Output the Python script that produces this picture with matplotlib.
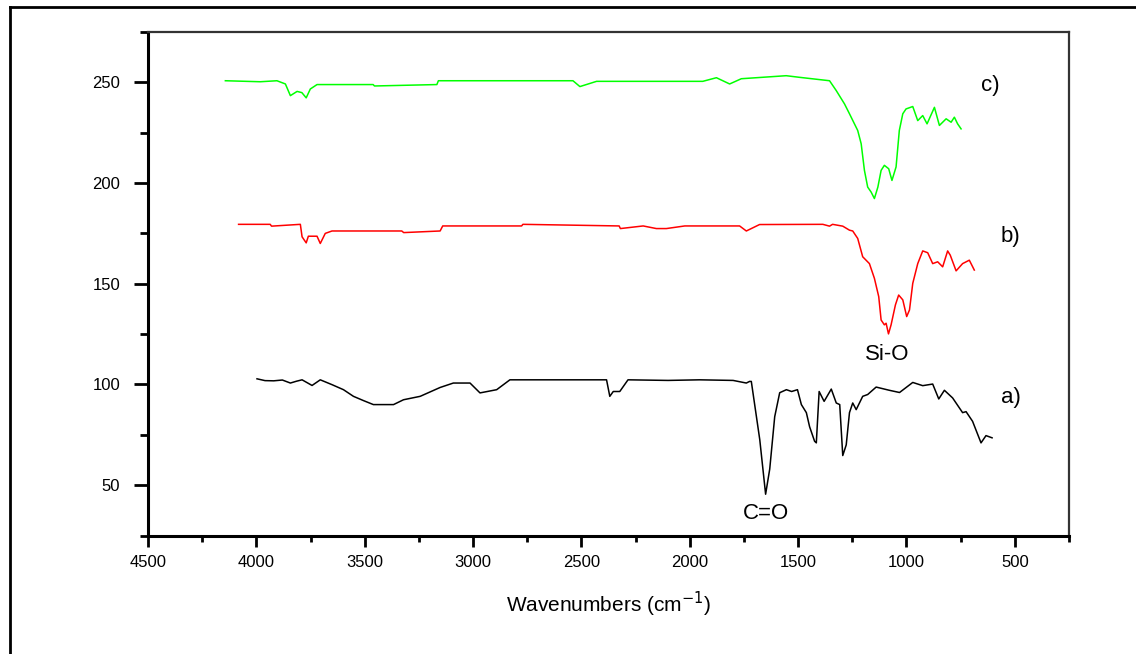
import matplotlib
matplotlib.use("Agg")
import matplotlib.pyplot as plt
from matplotlib.lines import Line2D
from matplotlib.ticker import MultipleLocator

plt.rcParams['font.family'] = ['Liberation Sans', 'DejaVu Sans']

# ---- data (wavenumber, transmittance) ----
a_x = [3997, 3960, 3920, 3880, 3843, 3815, 3789, 3743, 3705, 3651, 3598, 3552,
       3506, 3460, 3367, 3321, 3244, 3152, 3091, 3014, 2968, 2891, 2830, 2600,
       2420, 2384, 2369, 2353, 2323, 2285, 2100, 1955, 1800, 1739, 1724, 1716,
       1677, 1650, 1631, 1608, 1585, 1554, 1530, 1503, 1485, 1462, 1447, 1424,
       1416, 1403, 1380, 1347, 1324, 1308, 1294, 1278, 1263, 1248, 1232, 1202,
       1179, 1140, 1079, 1032, 971, 925, 879, 851, 825, 787, 741, 725, 695,
       656, 633, 605]
a_y = [102.8, 101.9, 101.8, 102.2, 100.7, 101.6, 102.3, 99.5, 102.3, 99.9, 97.4, 94.1,
       92.0, 90.0, 90.0, 92.4, 94.1, 98.5, 100.7, 100.7, 95.8, 97.4, 102.3, 102.3,
       102.3, 102.3, 94.1, 96.5, 96.5, 102.3, 102.0, 102.3, 102.0, 100.7, 101.5, 101.5,
       72.6, 45.5, 58.0, 84.0, 95.9, 97.4, 96.5, 97.4, 90.0, 86.0, 79.0, 71.8,
       71.0, 96.5, 91.6, 97.7, 90.8, 90.0, 64.7, 70.0, 86.0, 90.8, 87.5, 94.1,
       95.0, 98.7, 97.1, 96.0, 101.0, 99.4, 100.2, 92.8, 97.1, 93.3, 86.0, 86.5, 81.7,
       71.0, 74.6, 73.5]

b_x = [4082, 3936, 3930, 3797, 3789, 3770, 3760, 3720, 3705, 3682, 3651, 3329,
       3320, 3152, 3140, 2776, 2770, 2326, 2320, 2215, 2154, 2108, 2023, 1770,
       1739, 1678, 1386, 1355, 1341, 1294, 1263, 1248, 1225, 1202, 1171, 1148,
       1128, 1117, 1102, 1094, 1083, 1071, 1051, 1036, 1017, 999, 986, 971, 948,
       925, 902, 879, 856, 833, 810, 798, 771, 741, 710, 687]
b_y = [179.5, 179.5, 178.6, 179.5, 173.3, 170.3, 173.6, 173.6, 170.0, 175.0, 176.2, 176.2,
       175.4, 176.2, 178.7, 178.7, 179.5, 178.7, 177.4, 178.7, 177.4, 177.4, 178.7, 178.7,
       176.2, 179.4, 179.5, 178.6, 179.5, 178.6, 176.6, 176.2, 172.5, 163.4, 160.0, 152.7,
       143.6, 132.0, 129.6, 130.4, 125.1, 129.6, 139.5, 144.4, 142.0, 133.7, 137.0, 150.2, 160.0,
       166.3, 165.4, 160.0, 160.9, 158.4, 166.3, 164.2, 156.4, 160.0, 161.7, 156.8]

c_x = [4143, 3982, 3905, 3866, 3843, 3812, 3790, 3770, 3751, 3720, 3461, 3455,
       3167, 3160, 2539, 2507, 2430, 1940, 1877, 1816, 1762, 1555, 1494, 1355,
       1324, 1286, 1263, 1225, 1209, 1194, 1179, 1163, 1148, 1132, 1117, 1102,
       1082, 1067, 1048, 1033, 1017, 1002, 971, 948, 925, 905, 871, 848, 817,
       794, 779, 764, 748]
c_y = [250.8, 250.3, 250.8, 249.2, 243.4, 245.5, 244.9, 242.3, 246.7, 248.9, 248.9, 248.2,
       248.9, 250.8, 250.8, 247.9, 250.5, 250.5, 252.3, 249.2, 251.8, 253.3, 252.5, 250.8,
       245.9, 239.3, 234.4, 226.1, 219.5, 206.3, 198.0, 195.5, 192.3, 198.0, 206.3, 208.8,
       207.1, 201.3, 208.0, 226.1, 234.4, 236.8, 238.0, 231.0, 233.5, 229.4, 237.6, 228.6, 231.9,
       230.2, 232.7, 229.4, 226.9]

# ---- plotting ----
fig = plt.figure(figsize=(11.36, 6.54), dpi=100)
ax = fig.add_axes([148 / 1136, 1 - 535.5 / 654, (1069 - 148) / 1136, (535.5 - 32) / 654])

ax.plot(a_x, a_y, color='black', lw=1.1)
ax.plot(b_x, b_y, color='#ff0000', lw=1.1)
ax.plot(c_x, c_y, color='#00ff00', lw=1.1)

ax.set_xlim(4500, 250)
ax.set_ylim(25, 275)
ax.xaxis.set_major_locator(MultipleLocator(500))
ax.xaxis.set_minor_locator(MultipleLocator(250))
ax.yaxis.set_minor_locator(MultipleLocator(25))
ax.set_yticks([50, 100, 150, 200, 250])

ax.tick_params(axis='x', which='major', direction='out', length=8, width=2, pad=6, labelsize=12)
ax.tick_params(axis='x', which='minor', direction='out', length=4, width=2)
ax.tick_params(axis='y', which='major', direction='out', length=10, width=2, pad=10, labelsize=12)
ax.tick_params(axis='y', which='minor', direction='out', length=6, width=2)

for side in ['left', 'bottom']:
    ax.spines[side].set_linewidth(2.2)
    ax.spines[side].set_color('black')
for side in ['top', 'right']:
    ax.spines[side].set_linewidth(1.6)
    ax.spines[side].set_color('#333333')

ax.set_xlabel('Wavenumbers (cm$^{-1}$)', fontsize=15, labelpad=14)

ax.text(1650, 36, 'C=O', fontsize=16, ha='center', va='center')
ax.text(1088, 114.7, 'Si-O', fontsize=16, ha='center', va='center')
ax.text(518, 93.3, 'a)', fontsize=16, ha='center', va='center')
ax.text(518, 173.6, 'b)', fontsize=16, ha='center', va='center')
ax.text(615, 248.4, 'c)', fontsize=16, ha='center', va='center')

# outer frame around the picture
x0 = 10 / 1136
y1 = 1 - 7 / 654
fig.add_artist(Line2D([x0, x0], [0, y1], color='black', lw=2))
fig.add_artist(Line2D([x0, 1], [y1, y1], color='black', lw=2))

fig.savefig('out.png', dpi=100)
